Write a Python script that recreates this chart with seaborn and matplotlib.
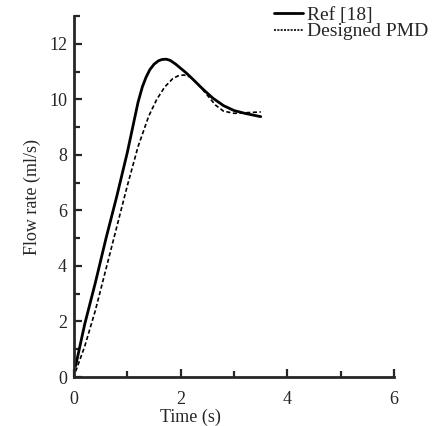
import matplotlib
matplotlib.use("Agg")
import matplotlib.pyplot as plt
from matplotlib.ticker import MultipleLocator
import seaborn as sns
import pandas as pd

# values
ref_t = [0.03, 0.2, 0.4, 0.6, 0.8, 1.0, 1.2, 1.28, 1.35, 1.42, 1.5, 1.58, 1.65, 1.73,
         1.8, 1.9, 2.0, 2.1, 2.2, 2.4, 2.6, 2.8, 3.0, 3.2, 3.5]
ref_q = [0.4, 1.9, 3.4, 5.0, 6.5, 8.1, 9.9, 10.45, 10.8, 11.07, 11.27, 11.39, 11.44, 11.45,
         11.41, 11.28, 11.12, 10.96, 10.78, 10.4, 10.05, 9.78, 9.6, 9.5, 9.38]

pmd_t = [0.03, 0.2, 0.4, 0.6, 0.8, 1.0, 1.2, 1.4, 1.55, 1.7, 1.85, 1.95, 2.05, 2.12, 2.2,
         2.35, 2.5, 2.65, 2.8, 3.0, 3.2, 3.5]
pmd_q = [0.2, 1.1, 2.4, 3.9, 5.4, 6.9, 8.3, 9.4, 10.0, 10.45, 10.75, 10.85, 10.88, 10.86, 10.78,
         10.5, 10.15, 9.8, 9.58, 9.5, 9.52, 9.55]

labels = ["Ref [18]", "Designed PMD"]

sns.set_style("ticks")
plt.rcParams['font.family'] = ['Liberation Serif', 'DejaVu Serif']

df = pd.concat([
    pd.DataFrame({"t": ref_t, "q": ref_q, "src": labels[0]}),
    pd.DataFrame({"t": pmd_t, "q": pmd_q, "src": labels[1]}),
])

fig = plt.figure(figsize=(4.38, 4.26), dpi=100)
ax = fig.add_axes([0.169, 0.115, 0.737, 0.847])

sns.lineplot(data=df[df.src == labels[0]], x="t", y="q", color="black", lw=2.0,
             sort=False, ax=ax, label=labels[0])
sns.lineplot(data=df[df.src == labels[1]], x="t", y="q", color="black", lw=1.2,
             sort=False, ax=ax, label=labels[1])

ax.set_xlim(0, 6.05)
ax.set_ylim(0, 13)
ax.xaxis.set_major_locator(MultipleLocator(2))
ax.xaxis.set_minor_locator(MultipleLocator(1))
ax.yaxis.set_major_locator(MultipleLocator(2))
ax.yaxis.set_minor_locator(MultipleLocator(1))
ax.tick_params(which="major", direction="in", length=6, width=1.6, labelsize=13)
ax.tick_params(which="minor", direction="in", length=4, width=1.6)
ax.tick_params(axis="y", pad=5)
ax.tick_params(axis="x", pad=10)
ax.spines["right"].set_visible(False)
ax.spines["top"].set_visible(False)
ax.spines["left"].set_linewidth(2)
ax.spines["bottom"].set_linewidth(2)
ax.spines["bottom"].set_bounds(0, 6)

ax.set_xlabel("Time (s)", fontsize=13, labelpad=0)
ax.xaxis.set_label_coords(0.36, -0.088)
ax.set_ylabel("Flow rate (ml/s)", fontsize=13, labelpad=6)

leg = ax.legend(loc="upper left", bbox_to_anchor=(0.59, 1.055), frameon=False,
                fontsize=14, handlelength=1.5, handletextpad=0.2,
                labelspacing=-0.05, borderpad=0)
ax.lines[1].set_dashes([2.5, 1.5])
leg.get_lines()[1].set_dashes([1.2, 0.8])

fig.savefig("out.png", dpi=100)
